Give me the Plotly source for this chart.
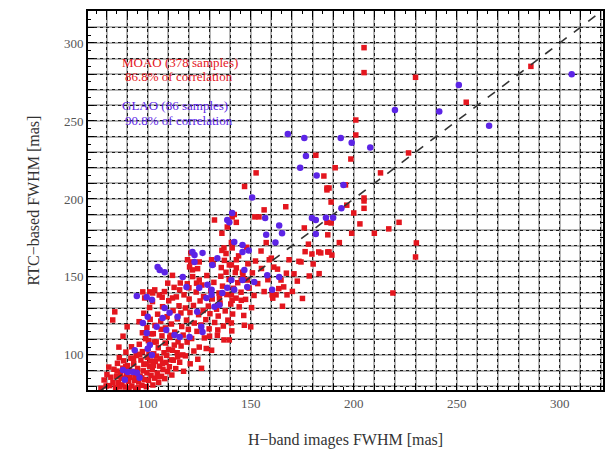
import plotly.graph_objects as go

# ---------------- data ----------------
moao_xy = [
    # outliers / upper region
    (205, 297), (205, 281), (230, 278), (254.6, 262), (286, 285), (201, 250.6), (201, 241),
    (181.6, 228), (198.6, 225.6), (191, 220), (185.5, 214.7), (213, 216.7), (226.6, 229.5),
    (187, 207), (205, 200.6), (152.6, 216.7), (147, 208), (187, 205.8), (189, 198), (196.6, 196),
    (205, 198.7), (205, 194), (200, 191), (187, 185), (189, 184.6), (176, 181.4), (187.4, 177),
    (199, 178), (217, 180.8), (222, 185), (230.4, 171.8), (230, 162.8), (219, 139.7),
    (179.7, 164.7), (184, 165.4), (187.4, 166), (189.4, 164), (174.4, 159.6), (156.5, 193),
    (152, 188.5), (141, 188.5), (143, 185), (167, 195), (141, 168.6), (143, 161), (148, 169),
    (155, 166.6), (160, 162), (168.6, 161), (173.4, 160), (183, 166), (188, 166), (196, 209),
    (188, 207), (159, 161), (164.7, 148), (166, 143.6), (160.4, 138.5), (139.6, 157.7),
    (143, 155.8), (146, 153), (145.4, 148), (148.3, 148), (132.4, 186.5), (136, 178),
    (137, 168.6), (140.6, 172), (121, 165.4), (121, 159.6), (125, 159.6), (121.7, 154.5),
    (131, 161), (135.7, 156), (138, 153), (140.6, 157.7), (109.7, 146), (112, 151),
    (115.5, 141.7), (120, 143), (123.7, 146), (125, 148), (97.6, 140.4), (101, 140.4),
    (103.4, 141.7), (98.5, 136.5), (107, 137), (112, 136.5), (138.6, 182), (142, 190),
    (154, 188.5), (157.5, 172), (163, 155), (162.3, 138.5), (167.6, 138.5), (136, 167),
    (138, 165), (120.3, 156.4), (119.3, 161), (102.4, 139.7), (84, 127.6), (83, 122.4),
    (178, 171), (193, 172), (171, 152), (203, 184), (210, 178),
    # lower-left dense cluster
    (77.3, 78.6), (78.8, 83.9), (80.2, 87.4), (81.5, 80.3), (82.1, 85.7), (83.6, 90.8),
    (84.4, 78.9), (84.9, 86.2), (85.7, 82.4), (85.3, 94.6), (86.8, 88.1), (86.2, 98.3),
    (87.5, 80.8), (87.9, 91.5), (88.6, 84.7), (88.3, 96.2), (89.1, 79.4), (89.7, 87.6),
    (89.4, 101.8), (90.6, 82.9), (90.2, 93.1), (91.4, 85.6), (91.8, 97.9), (92.3, 80.1),
    (92.7, 89.4), (92.1, 105.2), (93.5, 83.7), (93.2, 94.3), (94.1, 78.2), (94.8, 87.9),
    (94.4, 99.6), (95.6, 82.6), (95.1, 91.3), (95.9, 106.8), (96.3, 86.4), (96.7, 96.7),
    (97.2, 80.5), (97.8, 89.8), (97.4, 102.1), (98.5, 84.2), (98.1, 93.9), (98.9, 110.4),
    (99.3, 79.6), (99.6, 88.5), (99.8, 98.4), (100.4, 83.6), (100.9, 92.7), (100.2, 103.9),
    (101.6, 86.8), (101.3, 96.1), (101.8, 113.5), (102.5, 80.7), (102.2, 90.6), (102.9, 100.7),
    (103.4, 85.1), (103.7, 95.8), (103.1, 108.3), (104.6, 88.3), (104.2, 99.2), (105.3, 82.4),
    (105.8, 92.8), (105.1, 104.6), (106.7, 86.3), (106.2, 97.5), (106.5, 116.4), (107.4, 90.6),
    (107.9, 101.4), (108.2, 84.8), (108.8, 95.2), (108.5, 107.6), (109.6, 89.3), (109.2, 99.7),
    (110.5, 92.4), (110.1, 103.5), (111.7, 87.1), (111.3, 112.6), (112.4, 96.6), (112.9, 106.3),
    (113.6, 91.2), (114.3, 101.4), (115.5, 95.3), (116.2, 105.7), (117.4, 89.5), (118.3, 99.4),
    (119.1, 108.2), (120.6, 94.3), (122.4, 102.5), (124.3, 97.2), (126.1, 91.4), (128.4, 104.1),
    (83.1, 82.2), (86.4, 79.5), (90.9, 78.7), (95.3, 78.9), (91.1, 90.1), (93.9, 86.2),
    (97.1, 85.3), (99.1, 94.2), (102.8, 93.2), (104.9, 86.1), (107.2, 94.4), (100.6, 100.1),
    (96.1, 100.4), (93.1, 97.6), (89.3, 92.4), (87.2, 85.1), (85.1, 89.6), (81.1, 92.2),
    (79.8, 80.1), (131, 103), (137, 109.6), (139.6, 109.6), (88, 112), (90, 118), (86, 105),
    (112, 103), (114.5, 98.7), (117, 100), (111.6, 96.8),
    # middle cluster
    (95.8, 121.3), (97.4, 114.2), (98.1, 126.7), (99.6, 117.5), (100.3, 109.1), (100.9, 130.4),
    (101.2, 122.8), (102.7, 113.6), (102.3, 134.2), (103.5, 118.9), (104.8, 126.1),
    (104.1, 108.3), (105.6, 138.4), (106.3, 121.7), (106.9, 112.2), (107.2, 130.9),
    (108.6, 117.3), (108.1, 140.6), (109.4, 124.5), (110.7, 111.2), (110.2, 134.7),
    (111.5, 119.8), (112.3, 128.4), (112.8, 143.3), (113.1, 114.6), (113.9, 137.2),
    (114.4, 123.1), (114.7, 108.4), (115.2, 131.5), (115.8, 146.1), (116.5, 118.2),
    (116.1, 126.9), (117.6, 138.5), (117.2, 112.7), (118.8, 122.3), (118.3, 130.1),
    (119.2, 145.6), (119.7, 116.4), (120.5, 127.2), (120.1, 135.8), (121.3, 110.5),
    (121.8, 150.2), (122.6, 120.4), (122.2, 131.7), (123.5, 140.3), (123.9, 115.1),
    (124.7, 125.8), (124.2, 155.3), (125.4, 134.6), (125.8, 119.2), (126.3, 144.8),
    (126.9, 128.5), (127.5, 110.9), (127.1, 137.4), (128.2, 122.6), (128.7, 150.9),
    (129.4, 131.3), (129.8, 116.7), (130.6, 141.2), (130.2, 126.4), (131.3, 135.9),
    (131.7, 158.2), (132.5, 120.8), (132.1, 146.5), (133.4, 129.3), (133.8, 112.6),
    (134.6, 139.7), (134.2, 124.9), (135.5, 150.4), (135.1, 133.2), (136.7, 118.5),
    (136.3, 144.1), (137.6, 128.2), (137.2, 160.6), (138.4, 138.7), (138.9, 122.3),
    (139.5, 148.4), (140.3, 132.6), (140.8, 115.4), (141.6, 142.7), (141.2, 126.2),
    (142.5, 152.8), (142.9, 136.4), (143.7, 146.3), (144.4, 130.8), (144.1, 163.5),
    (145.3, 140.2), (146.6, 125.3), (146.2, 150.7), (147.5, 135.6), (148.6, 158.4),
    (149.2, 142.8), (150.4, 130.3), (150.8, 152.6), (151.6, 138.1), (152.3, 160.2),
    (153.4, 145.7), (155.2, 155.4), (156.5, 140.6), (158.3, 148.2), (160.7, 136.4),
    (161.2, 156.3), (163.6, 142.5), (165.4, 131.2), (167.3, 152.4), (170.2, 140.7),
    (172.6, 147.3), (175.1, 136.2), (178.4, 150.6), (180.3, 158.3), (183.2, 152.1),
    (176.4, 166.2), (125, 105), (130, 112), (134, 116), (140.6, 120.5), (146.9, 119),
    (150, 118), (140.6, 138.5), (141, 135), (134.8, 136.5), (145.4, 135),
]

glao_xy = [
    (305.8, 280), (251, 273), (220, 257), (241.5, 256), (265.7, 247), (168, 241.7), (176, 239),
    (193.7, 239), (199, 236), (208, 233), (176.8, 227.6), (174, 220), (182, 215), (195, 209),
    (150.7, 201), (194, 194), (179.7, 187.8), (181.6, 186.5), (190, 188), (186.5, 188),
    (181.6, 177.6), (157, 187.8), (139.6, 185), (141, 191), (138.6, 186.5), (163.8, 183),
    (165.2, 178), (157.5, 177), (162, 172), (142, 172.4), (146, 170.5), (146, 166), (149, 167),
    (158, 151), (163.8, 150), (160.4, 141.7), (151.7, 146.8), (148.3, 143.6), (146.9, 154.5),
    (146, 148), (142, 141.7), (140.6, 148), (136.2, 139.7), (122.7, 164), (126.6, 165.4),
    (121.7, 166), (122.7, 159.6), (133.8, 162), (131.4, 157.7), (104.8, 156.4), (105.8, 154.5),
    (108.2, 153), (117, 150), (118.8, 143.6), (125, 143), (129, 145), (131, 141.7), (138.6, 143),
    (94.7, 137.8), (99.5, 137.2), (102, 135.3), (131, 138.5), (128.5, 136.5), (124, 127.6),
    (132.4, 130.8), (134.8, 132), (108.2, 130), (114.5, 124.4), (100, 124.4), (107.2, 123.7),
    (110.6, 127), (97.6, 120.5), (104.3, 118), (126, 118), (126.6, 114.7), (99.5, 114),
    (109, 116), (113, 112.8), (115.5, 111.5), (120.3, 111.5), (101, 106.4), (100, 104),
    (102, 100), (93.7, 103), (88, 90.4), (90.3, 89), (94.7, 88.5), (88.9, 84), (96, 85.3),
    (92.8, 89),
]

moao_x = [p[0] for p in moao_xy]
moao_y = [p[1] for p in moao_xy]
glao_x = [p[0] for p in glao_xy]
glao_y = [p[1] for p in glao_xy]

# annotation lines: (text, x, y, colour key)
label_lines = [
    ("MOAO (378 samples)", 87.0, 287.8, "red"),
    ("86.8% of correlation", 88.4, 278.2, "red"),
    ("GLAO (86 samples)", 87.0, 259.6, "blue"),
    ("90.8% of correlation", 88.4, 250.0, "blue"),
]

diag = [70, 321]
x_range = [71, 321]
y_range = [77.5, 320.5]
tick_vals = [100, 150, 200, 250, 300]

RED = "rgb(228,22,30)"
BLUE = "rgb(92,36,230)"
COLORS = {"red": RED, "blue": BLUE}
FONT = "Liberation Serif"

fig = go.Figure()

# empty trace for the overlay (dotted grid) axes
fig.add_trace(go.Scatter(x=[], y=[], xaxis="x2", yaxis="y2", showlegend=False))

fig.add_trace(go.Scatter(
    x=moao_x, y=moao_y, mode="markers", name="MOAO",
    marker=dict(symbol="square", size=5.5, color=RED, line=dict(width=0)),
    showlegend=False,
))
fig.add_trace(go.Scatter(
    x=diag, y=diag, mode="lines",
    line=dict(color="#333", width=1.6, dash="dash"), showlegend=False,
))
fig.add_trace(go.Scatter(
    x=glao_x, y=glao_y, mode="markers", name="GLAO",
    marker=dict(symbol="circle", size=6.5, color=BLUE, line=dict(width=0)),
    showlegend=False,
))

axis_common = dict(
    showline=True, linecolor="black", linewidth=2, mirror="ticks",
    ticks="inside", ticklen=6, tickwidth=1.2, tickcolor="black",
    tickfont=dict(family=FONT, size=13, color="#555"),
    zeroline=False,
    showgrid=True, gridcolor="rgba(120,120,120,0.55)", gridwidth=2,
    minor=dict(ticks="inside", ticklen=3, dtick=5, tickcolor="black", showgrid=False),
)

grid_vals = list(range(70, 330, 10))

fig.update_layout(
    width=609, height=456,
    margin=dict(l=88, r=4, t=11, b=66),
    paper_bgcolor="white", plot_bgcolor="white",
    font=dict(family=FONT),
    xaxis=dict(
        axis_common, range=x_range,
        tickmode="array", tickvals=grid_vals,
        ticktext=[str(v) if v in tick_vals else "" for v in grid_vals],
        title=dict(text="H\u2212band images FWHM [mas]",
                   font=dict(family=FONT, size=16, color="#333"), standoff=24),
    ),
    yaxis=dict(
        axis_common, range=y_range,
        tickmode="array", tickvals=grid_vals,
        ticktext=[str(v) if v in tick_vals else "" for v in grid_vals],
        title=dict(text="RTC\u2212based FWHM [mas]",
                   font=dict(family=FONT, size=16, color="#333"), standoff=20),
    ),
    xaxis2=dict(overlaying="x", range=x_range, showgrid=True, gridcolor="rgba(0,0,0,0.85)",
                gridwidth=1, griddash="dot", dtick=10, tick0=0,
                showticklabels=False, ticks="", zeroline=False, showline=False),
    yaxis2=dict(overlaying="y", range=y_range, showgrid=True, gridcolor="rgba(0,0,0,0.85)",
                gridwidth=1, griddash="dot", dtick=10, tick0=0,
                showticklabels=False, ticks="", zeroline=False, showline=False),
)

for text, lx, ly, ck in label_lines:
    fig.add_annotation(
        x=lx, y=ly, xref="x", yref="y", xanchor="left", yanchor="middle",
        text=text, showarrow=False, align="left", borderpad=0,
        font=dict(family=FONT, size=13, color=COLORS[ck]),
    )

fig.write_html("out.html")
